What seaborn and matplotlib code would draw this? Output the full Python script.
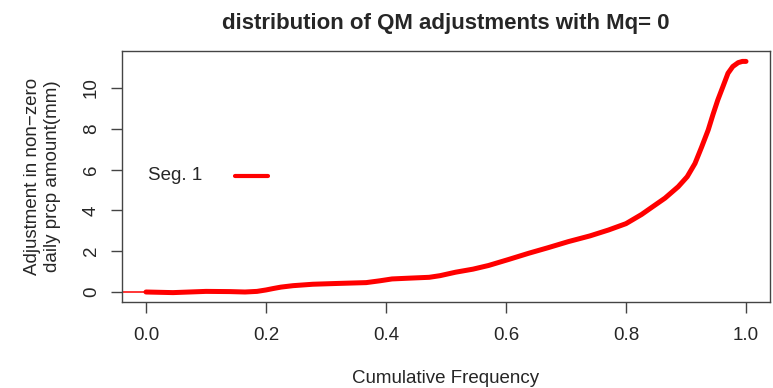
import matplotlib
matplotlib.use("Agg")
import matplotlib.pyplot as plt
import seaborn as sns
import pandas as pd

# Cumulative frequency vs. QM adjustment (mm) for segment 1
cum_freq = [0.00, 0.045, 0.10, 0.14, 0.165, 0.185, 0.20, 0.212, 0.225, 0.245,
            0.278, 0.32, 0.367, 0.39, 0.41, 0.44, 0.472, 0.49, 0.516, 0.545,
            0.571, 0.605, 0.638, 0.67, 0.704, 0.74, 0.771, 0.80, 0.826, 0.843,
            0.865, 0.887, 0.902, 0.915, 0.926, 0.937, 0.945, 0.953, 0.962,
            0.970, 0.978, 0.987, 0.994, 1.00]
adjustment = [0.0, -0.03, 0.03, 0.02, 0.0, 0.03, 0.1, 0.17, 0.24, 0.31,
              0.38, 0.42, 0.46, 0.55, 0.64, 0.68, 0.72, 0.8, 0.97, 1.12,
              1.3, 1.6, 1.9, 2.17, 2.47, 2.75, 3.04, 3.35, 3.8, 4.15,
              4.6, 5.16, 5.65, 6.3, 7.1, 7.94, 8.7, 9.41, 10.1,
              10.72, 11.05, 11.24, 11.3, 11.3]

# zero reference stub left of the first quantile
zero_x = [-0.04, 0.0]
zero_y = [0.0, 0.0]

x_ticks = [0.0, 0.2, 0.4, 0.6, 0.8, 1.0]
x_tick_labels = ["0.0", "0.2", "0.4", "0.6", "0.8", "1.0"]
y_ticks = [0, 2, 4, 6, 8, 10]
y_tick_labels = ["0", "2", "4", "6", "8", "10"]

sns.set_style("white")
plt.rcParams["font.family"] = ["Liberation Sans", "DejaVu Sans"]

ink = "#262626"
red = "#ff0000"

fig = plt.figure(figsize=(7.73, 3.88), dpi=100)
ax = fig.add_axes([122 / 773, 1 - 302 / 388, (770 - 122) / 773, (302 - 51) / 388])

curve = pd.DataFrame({"freq": cum_freq, "adj": adjustment})
stub = pd.DataFrame({"freq": zero_x, "adj": zero_y})

sns.lineplot(data=stub, x="freq", y="adj", ax=ax, color=red, linewidth=1.1,
             sort=False, estimator=None)
sns.lineplot(data=curve, x="freq", y="adj", ax=ax, color=red, linewidth=3.6,
             sort=False, estimator=None, solid_capstyle="round",
             solid_joinstyle="round")

ax.set_xlim(-0.04, 1.04)
ax.set_ylim(-0.49, 11.81)

ax.set_xticks(x_ticks)
ax.set_xticklabels(x_tick_labels)
ax.set_yticks(y_ticks)
ax.set_yticklabels(y_tick_labels, rotation=90, va="center")

ax.tick_params(axis="both", direction="out", length=8, width=1.0,
               color="#444444", labelsize=13.5, labelcolor=ink,
               bottom=True, left=True)
ax.tick_params(axis="x", pad=10)
ax.tick_params(axis="y", pad=8)
for side in ax.spines.values():
    side.set_visible(True)
    side.set_color("#444444")
    side.set_linewidth(1.0)

ax.set_xlabel("Cumulative Frequency", fontsize=13.5, color=ink, labelpad=19)
ax.set_ylabel("Adjustment in non\u2212zero\ndaily prcp amount(mm)", fontsize=13.5,
              color=ink, labelpad=16, linespacing=1.23)

# legend drawn without a frame, as plain text and a line sample
ax.text(0.003, 5.73, "Seg. 1", fontsize=13.5, color=ink, va="center", ha="left")
sns.lineplot(x=[0.148, 0.203], y=[5.7, 5.7], ax=ax, color=red, linewidth=3.0,
             estimator=None, sort=False)

ax.set_title("distribution of QM adjustments with Mq= 0", fontsize=16,
             fontweight="bold", color=ink, pad=16)

fig.savefig("out.png", dpi=100)
